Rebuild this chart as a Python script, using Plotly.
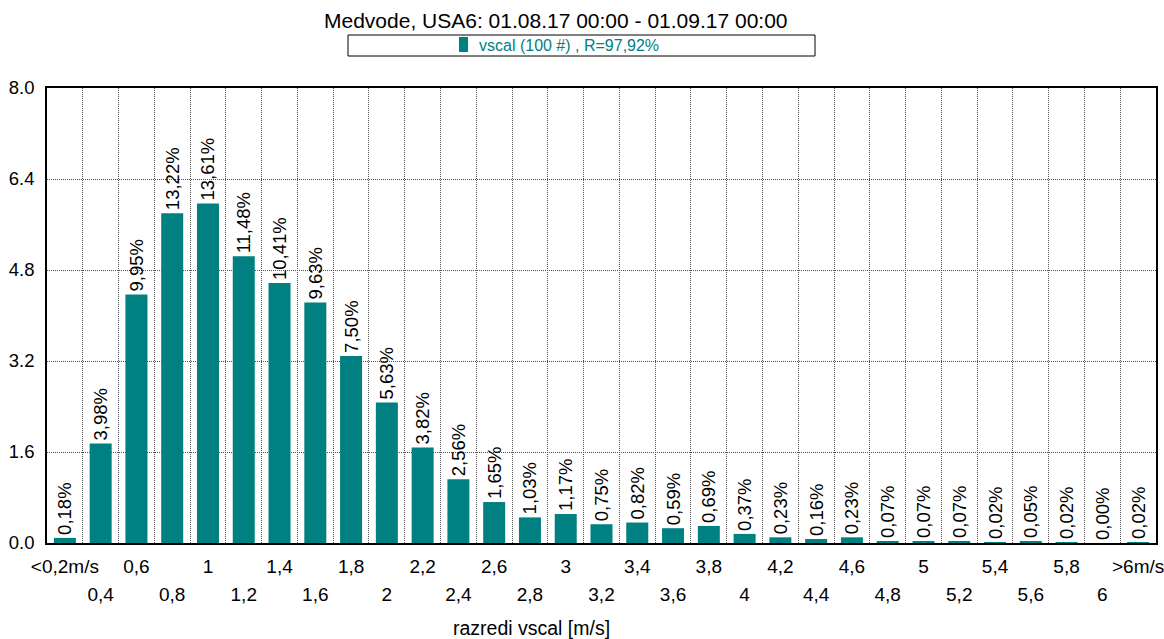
import plotly.graph_objects as go

# ---- data ----
categories = ["<0,2m/s", "0,4", "0,6", "0,8", "1", "1,2", "1,4", "1,6", "1,8", "2",
              "2,2", "2,4", "2,6", "2,8", "3", "3,2", "3,4", "3,6", "3,8", "4",
              "4,2", "4,4", "4,6", "4,8", "5", "5,2", "5,4", "5,6", "5,8", "6", ">6m/s"]
heights = [0.09, 1.75, 4.37, 5.80, 5.97, 5.04, 4.57, 4.23, 3.29, 2.47,
           1.68, 1.12, 0.72, 0.45, 0.51, 0.33, 0.36, 0.26, 0.30, 0.16,
           0.10, 0.07, 0.10, 0.03, 0.03, 0.03, 0.01, 0.02, 0.01, 0.00, 0.01]
percent_labels = ["0,18%", "3,98%", "9,95%", "13,22%", "13,61%", "11,48%", "10,41%", "9,63%", "7,50%", "5,63%",
                  "3,82%", "2,56%", "1,65%", "1,03%", "1,17%", "0,75%", "0,82%", "0,59%", "0,69%", "0,37%",
                  "0,23%", "0,16%", "0,23%", "0,07%", "0,07%", "0,07%", "0,02%", "0,05%", "0,02%", "0,00%", "0,02%"]
y_ticks = [0.0, 1.6, 3.2, 4.8, 6.4, 8.0]
row1_ticks = categories[0::2]
row2_ticks = categories[1::2]
title_text = "Medvode, USA6: 01.08.17 00:00 - 01.09.17 00:00"
legend_text = "vscal (100 #) , R=97,92%"
x_title = "razredi vscal [m/s]"

TEAL = "#008080"
FONT = "Liberation Sans, Arial, sans-serif"
W, H = 1164, 639
# plot area in page pixels: left 47, right 1156, top 88, bottom 543
ML = 47
MR = W - 1156
MT = 88
MB = H - 543
PW = W - ML - MR
PH = H - MT - MB


def px(x):
    """page pixel x -> paper"""
    return (x - ML) / PW


def py(y):
    """page pixel y -> paper"""
    return (H - MB - y) / PH


def esc(s):
    return s.replace("<", "&lt;").replace(">", "&gt;")


fig = go.Figure()
fig.add_trace(go.Bar(
    x=categories, y=heights, text=percent_labels,
    textposition="outside", textangle=-90, constraintext="none", cliponaxis=False,
    textfont=dict(size=18.5, color="black", family=FONT),
    marker=dict(color=TEAL, line=dict(width=0)),
    showlegend=False, hoverinfo="skip",
))
for ax in ("x2", "x3"):
    fig.add_trace(go.Scatter(x=categories, y=heights, xaxis=ax, yaxis="y",
                             mode="markers", marker=dict(opacity=0, size=1),
                             showlegend=False, hoverinfo="skip"))

xr = [-0.5, len(categories) - 0.5]
GRID = dict(showgrid=True, gridcolor="#505050", griddash="1px,1px", gridwidth=1)
fig.update_layout(
    width=W, height=H,
    margin=dict(l=ML, r=MR, t=MT, b=MB, autoexpand=False),
    paper_bgcolor="white", plot_bgcolor="white",
    font=dict(family=FONT, size=19, color="black"),
    bargap=0.385,
    xaxis=dict(type="category", range=xr, categoryorder="array", categoryarray=categories,
               tickmode="linear", dtick=1, tickson="boundaries", ticks="",
               showticklabels=False, showline=True, linecolor="black", linewidth=1.5,
               mirror=True, zeroline=False, automargin=False, **GRID),
    xaxis2=dict(type="category", range=xr, categoryorder="array", categoryarray=categories,
                overlaying="x", anchor="y", side="bottom",
                tickmode="array", tickvals=row1_ticks, ticktext=[esc(t) for t in row1_ticks],
                ticks="", ticklabelstandoff=10, showgrid=False, showline=False, zeroline=False,
                automargin=False, tickfont=dict(size=19)),
    xaxis3=dict(type="category", range=xr, categoryorder="array", categoryarray=categories,
                overlaying="x", anchor="y", side="bottom",
                tickmode="array", tickvals=row2_ticks, ticktext=[esc(t) for t in row2_ticks],
                ticks="", ticklabelstandoff=38, showgrid=False, showline=False, zeroline=False,
                automargin=False, tickfont=dict(size=19)),
    yaxis=dict(range=[0, 8], tickmode="array", tickvals=y_ticks, tickformat=".1f",
               ticks="", ticklabelstandoff=7, showline=True, linecolor="black",
               linewidth=1.5, mirror=True, zeroline=False, automargin=False,
               tickfont=dict(size=18.5), **GRID),
)

# title
fig.add_annotation(text=title_text, xref="paper", yref="paper", x=px(556), y=py(20),
                   showarrow=False, font=dict(size=21, color="black"),
                   xanchor="center", yanchor="middle")
# legend box
fig.add_shape(type="rect", xref="paper", yref="paper",
              x0=px(348), x1=px(815), y0=py(56), y1=py(35),
              line=dict(color="black", width=1), fillcolor="white")
fig.add_shape(type="rect", xref="paper", yref="paper",
              x0=px(459), x1=px(468), y0=py(52), y1=py(37),
              line=dict(width=0), fillcolor=TEAL)
fig.add_annotation(text=legend_text, xref="paper", yref="paper", x=px(477), y=py(45.5),
                   showarrow=False, font=dict(size=16, color=TEAL),
                   xanchor="left", yanchor="middle")
# x title
fig.add_annotation(text=x_title, xref="paper", yref="paper", x=px(531), y=py(628),
                   showarrow=False, font=dict(size=19.5, color="black"),
                   xanchor="center", yanchor="middle")

fig.write_html(
    "out.html",
    config={"displayModeBar": False},
    post_script="document.body.style.margin='0';document.body.style.overflow='hidden';",
)
